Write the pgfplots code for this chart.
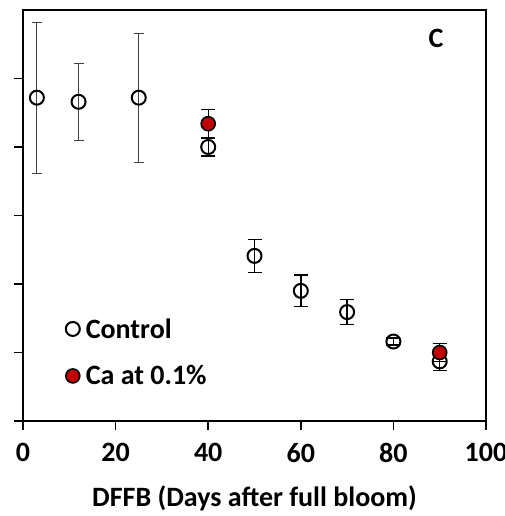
\documentclass[border=0pt]{standalone}
\usepackage{pgfplots}
\pgfplotsset{compat=1.18}
\usepackage{fontspec}
\setmainfont{Carlito}
\definecolor{cared}{RGB}{192,0,0}
\begin{document}
\begin{tikzpicture}
\begin{axis}[name=ax, width=463pt, height=411pt, scale only axis,
  xmin=0, xmax=100, ymin=0, ymax=6,
  xtick={0,20,...,100}, ytick={0,1,...,5}, yticklabels={},
  tick pos=left, tick align=outside, major tick length=9pt,
  tick style={black, line width=1.6pt},
  axis line style={line width=2pt},
  /pgf/number format/assume math mode=true,
  tick label style={font=\fontsize{28}{32}\selectfont\bfseries},
  xticklabel style={yshift=-10pt},
  xlabel={DFFB (Days after full bloom)},
  xlabel style={font=\fontsize{28}{32}\selectfont\bfseries, yshift=-16pt},
  legend style={at={(axis cs:9.2,1.53)}, anchor=north west, draw=none, fill=none,
    font=\fontsize{28}{32}\selectfont\bfseries, row sep=22pt, inner sep=0pt},
  legend cell align=left,
  clip=false,
]
\addlegendimage{only marks, mark=o, mark size=7pt, mark options={line width=2pt, black}}
\addlegendentry{\hspace{4pt}Control}
\addlegendimage{only marks, mark=*, mark size=7pt, mark options={line width=1.6pt, draw=black, fill=cared}}
\addlegendentry{\hspace{4pt}Ca at 0.1\%}
% Control, early points (thin grey error bars)
\addplot[only marks, mark=o, mark size=7pt, mark options={line width=2pt, black},
  error bars/.cd, y dir=both, y explicit, error mark=-,
  error bar style={line width=1pt, black!75},
  error mark options={rotate=90, line width=1pt, black!75, mark size=5pt}]
  coordinates {(3,4.72) +- (0,1.10) (12,4.66) +- (0,0.56) (25,4.72) +- (0,0.94)};
% Control, later points
\addplot[only marks, mark=o, mark size=7pt, mark options={line width=2pt, black},
  error bars/.cd, y dir=both, y explicit, error mark=-,
  error bar style={line width=1.4pt, black},
  error mark options={rotate=90, line width=1.4pt, black, mark size=7pt}]
  coordinates {(40,4.00) +- (0,0.13) (50,2.41) +- (0,0.24) (60,1.90) +- (0,0.23)
    (70,1.59) +- (0,0.18) (80,1.16) +- (0,0.05) (90,0.87) +- (0,0.13)};
% Ca at 0.1%
\addplot[only marks, mark=*, mark size=7pt, mark options={line width=1.6pt, draw=black, fill=cared},
  error bars/.cd, y dir=both, y explicit, error mark=-,
  error bar style={line width=1.4pt, black},
  error mark options={rotate=90, line width=1.4pt, black, mark size=7pt}]
  coordinates {(40,4.34) +- (0,0.21) (90,1.00) +- (0,0.13)};
\node[font=\fontsize{28}{32}\selectfont\bfseries] at (axis cs:89.2,5.58) {C};
\end{axis}
\pgfresetboundingbox
\path[use as bounding box] ([xshift=-23pt,yshift=-95pt]ax.south west) rectangle ([xshift=19pt,yshift=10pt]ax.north east);
\end{tikzpicture}
\end{document}
